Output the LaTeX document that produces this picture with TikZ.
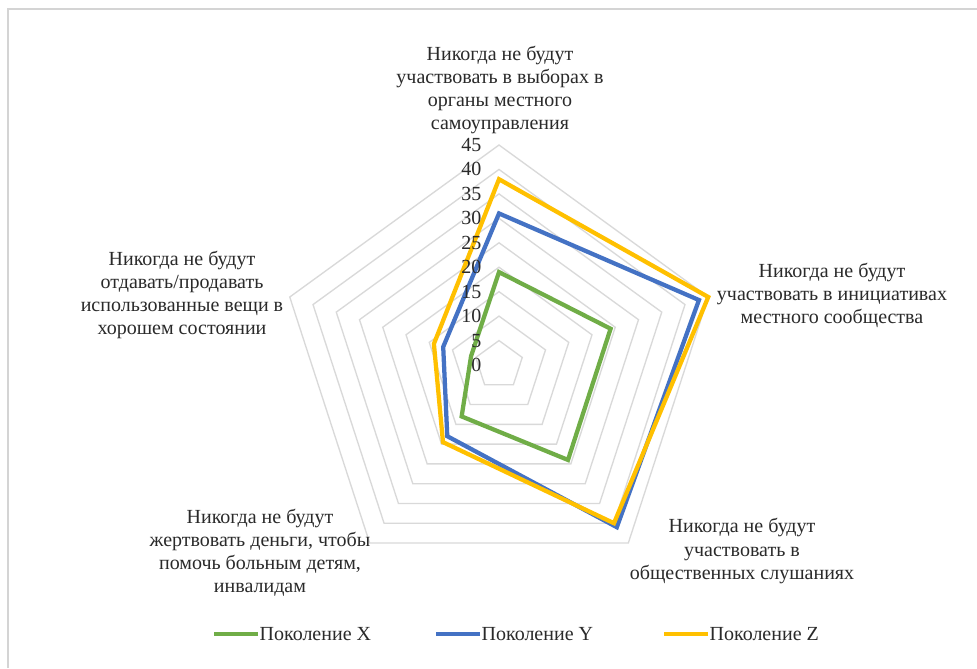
\documentclass[tikz,border=0pt]{standalone}
\usepackage{fontspec}
\setmainfont{Liberation Serif}
\usepackage{xcolor}
\usetikzlibrary{positioning}
\definecolor{gridgray}{HTML}{D9D9D9}
\definecolor{framegray}{HTML}{D4D4D4}
\definecolor{txtgray}{HTML}{2A2A2A}
\definecolor{genx}{HTML}{70AD47}
\definecolor{geny}{HTML}{4472C4}
\definecolor{genz}{HTML}{FFC000}
% point on axis #1 (0 = top, clockwise) at value #2
\newcommand{\radpt}[2]{({499+4.889*(#2)*cos(90-72*(#1))},{365-4.889*(#2)*sin(90-72*(#1))})}
\tikzset{
  axlbl/.style={font=\fontsize{15}{17.3}\selectfont, text=txtgray, align=center},
  ticklbl/.style={font=\fontsize{15}{17.3}\selectfont, text=txtgray, anchor=east, inner sep=1pt},
  gridring/.style={draw=gridgray, line width=1pt},
  serline/.style={line width=3.2pt, line join=miter}
}
\begin{document}
\begin{tikzpicture}[x=0.75pt, y=-0.75pt]
\useasboundingbox (0,0) rectangle (977,668);
\fill[white] (0,0) rectangle (977,668);
\draw[framegray, line width=1.5pt] (8,668) -- (8,9) -- (977,9);
% rings 5..45
\foreach \r in {5,10,...,45}
  \draw[gridring] \radpt{0}{\r} -- \radpt{1}{\r} -- \radpt{2}{\r} -- \radpt{3}{\r} -- \radpt{4}{\r} -- cycle;
% series
\draw[serline, genx] \radpt{0}{19} -- \radpt{1}{24} -- \radpt{2}{24} -- \radpt{3}{13} -- \radpt{4}{6} -- cycle;
\draw[serline, geny] \radpt{0}{31} -- \radpt{1}{43} -- \radpt{2}{41} -- \radpt{3}{18} -- \radpt{4}{12} -- cycle;
\draw[serline, genz] \radpt{0}{38} -- \radpt{1}{45} -- \radpt{2}{40} -- \radpt{3}{19.5} -- \radpt{4}{14} -- cycle;
% scale
\foreach \v in {0,5,...,45}
  \node[ticklbl] (tick\v) at (483,{365-4.889*\v}) {\v};
% axis captions
\node[axlbl] (capTop) at (500,90) {Никогда не будут\\участвовать в выборах в\\органы местного\\самоуправления};
\node[axlbl] (capRight) at (832,295) {Никогда не будут\\участвовать в инициативах\\местного сообщества};
\node[axlbl] (capLowRight) at (742,551) {Никогда не будут\\участвовать в\\общественных слушаниях};
\node[axlbl] (capLowLeft) at (260,553) {Никогда не будут\\жертвовать деньги, чтобы\\помочь больным детям,\\инвалидам};
\node[axlbl] (capLeft) at (182,295) {Никогда не будут\\отдавать/продавать\\использованные вещи в\\хорошем состоянии};
% legend
\node[axlbl, anchor=west, inner sep=1pt] (legX) at (258,634) {Поколение X};
\node[axlbl, anchor=west, inner sep=1pt] (legY) at (480,634) {Поколение Y};
\node[axlbl, anchor=west, inner sep=1pt] (legZ) at (708,634) {Поколение Z};
\draw[serline, genx] (legX.west) -- ++(-44,0);
\draw[serline, geny] (legY.west) -- ++(-44,0);
\draw[serline, genz] (legZ.west) -- ++(-44,0);
\end{tikzpicture}
\end{document}
